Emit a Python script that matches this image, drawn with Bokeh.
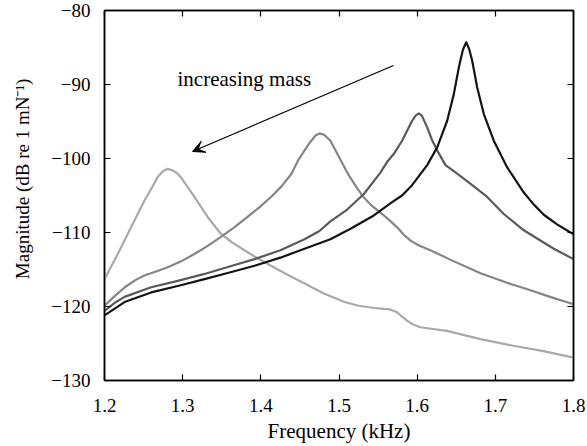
from bokeh.plotting import figure
from bokeh.models import LinearAxis, FixedTicker, Arrow, VeeHead, Label
from bokeh.embed import file_html
from bokeh.resources import INLINE

# ---- data ----
x_ticks = [1.2, 1.3, 1.4, 1.5, 1.6, 1.7, 1.8]
x_tick_labels = ["1.2", "1.3", "1.4", "1.5", "1.6", "1.7", "1.8"]
y_ticks = [-130, -120, -110, -100, -90, -80]
y_tick_labels = ["\u2212130", "\u2212120", "\u2212110", "\u2212100", "\u221290", "\u221280"]

light_x = [1.200, 1.217, 1.234, 1.251, 1.262, 1.268, 1.275, 1.281, 1.287, 1.293, 1.298, 1.306,
           1.315, 1.332, 1.349, 1.364, 1.379, 1.396, 1.413, 1.434, 1.456, 1.480, 1.507, 1.525,
           1.545, 1.565, 1.573, 1.580, 1.587, 1.594, 1.604, 1.638, 1.681, 1.723, 1.760, 1.800]
light_y = [-116.3, -112.9, -109.3, -105.7, -103.7, -102.5, -101.7, -101.4, -101.6, -102.0, -102.6, -103.8,
           -105.2, -107.9, -110.2, -111.4, -112.4, -113.5, -114.5, -115.7, -116.9, -118.2, -119.4, -119.9,
           -120.2, -120.4, -120.7, -121.3, -121.9, -122.4, -122.8, -123.3, -124.4, -125.3, -126.0, -126.9]

medium_x = [1.200, 1.213, 1.226, 1.240, 1.251, 1.265, 1.281, 1.298, 1.315, 1.332, 1.349, 1.366,
            1.383, 1.398, 1.413, 1.427, 1.439, 1.448, 1.456, 1.463, 1.470, 1.475, 1.481, 1.489,
            1.499, 1.5105, 1.520, 1.5297, 1.541, 1.553, 1.564, 1.5744, 1.583, 1.5915, 1.603, 1.617,
            1.643, 1.681, 1.715, 1.745, 1.770, 1.800]
medium_y = [-119.9, -118.6, -117.4, -116.4, -115.8, -115.3, -114.7, -113.9, -112.9, -111.8, -110.6, -109.3,
            -107.9, -106.6, -105.2, -103.7, -102.1, -100.2, -98.9, -97.8, -96.9, -96.6, -96.8, -97.6,
            -99.6, -101.9, -103.5, -105.0, -106.3, -107.3, -108.3, -109.3, -110.3, -111.1, -111.8, -112.4,
            -113.7, -115.5, -116.8, -117.8, -118.7, -119.7]

dark_x = [1.200, 1.213, 1.2256, 1.2597, 1.295, 1.328, 1.360, 1.392, 1.425, 1.4559, 1.475, 1.489,
          1.5105, 1.5318, 1.553, 1.562, 1.570, 1.5807, 1.587, 1.593, 1.598, 1.602, 1.606, 1.6128,
          1.619, 1.6256, 1.6362, 1.6469, 1.668, 1.6896, 1.7108, 1.7364, 1.7748, 1.800]
dark_y = [-120.6, -119.5, -118.7, -117.4, -116.5, -115.6, -114.6, -113.6, -112.4, -110.9, -109.8, -108.5,
          -106.9, -104.8, -101.9, -100.4, -99.4, -97.6, -96.3, -95.0, -94.2, -93.9, -94.2, -95.8,
          -97.5, -98.9, -100.9, -101.7, -103.4, -105.2, -107.5, -109.7, -112.2, -113.6]

black_x = [1.200, 1.2256, 1.2597, 1.295, 1.328, 1.360, 1.392, 1.425, 1.4559, 1.489, 1.5147, 1.5446,
           1.5679, 1.5807, 1.5935, 1.6128, 1.6256, 1.6298, 1.6384, 1.6469, 1.6533, 1.6585, 1.6627,
           1.6665, 1.6704, 1.6768, 1.6853, 1.698, 1.7152, 1.7364, 1.749, 1.762, 1.779, 1.7962, 1.800]
black_y = [-121.2, -119.4, -118.1, -117.2, -116.3, -115.4, -114.5, -113.4, -112.2, -110.9, -109.5, -107.7,
           -105.9, -105.0, -103.6, -100.9, -98.5, -97.3, -94.9, -91.3, -87.7, -85.3, -84.3,
           -85.2, -86.8, -90.4, -94.0, -97.6, -101.2, -104.6, -106.2, -107.6, -108.9, -110.0, -110.2]

annotation_text = "increasing mass"
x_title = "Frequency (kHz)"
y_title = "Magnitude (dB re 1 mN\u207b\u00b9)"

FONT = "Liberation Serif"

p = figure(width=587, height=446, x_range=(1.2, 1.8), y_range=(-130, -80),
           output_backend="svg", toolbar_location=None,
           min_border_left=104, min_border_right=14, min_border_top=10, min_border_bottom=66)
p.background_fill_color = "white"
p.border_fill_color = "white"
p.outline_line_color = "black"
p.outline_line_width = 1.5
p.xgrid.visible = False
p.ygrid.visible = False

for xs, ys, col in [(light_x, light_y, "#a9a9a9"), (medium_x, medium_y, "#858585"),
                    (dark_x, dark_y, "#5a5a5a"), (black_x, black_y, "#141414")]:
    p.line(xs, ys, line_color=col, line_width=2.2, line_join="round")

def style_axis(ax, ticks, labels, show_labels=True):
    ax.ticker = FixedTicker(ticks=ticks)
    ax.major_label_overrides = {t: l for t, l in zip(ticks, labels)}
    ax.major_tick_in = 6
    ax.major_tick_out = 0
    ax.minor_tick_in = 0
    ax.minor_tick_out = 0
    ax.axis_line_color = "black"
    ax.axis_line_width = 1.5
    ax.major_tick_line_width = 1.2
    ax.major_label_text_font = FONT
    ax.major_label_text_font_size = "19px"
    ax.major_label_text_color = "black" if show_labels else None
    ax.axis_label_text_font = FONT
    ax.axis_label_text_font_size = "21px"
    ax.axis_label_text_font_style = "normal"
    ax.axis_label_text_color = "black"

xa = p.xaxis[0]
ya = p.yaxis[0]
style_axis(xa, x_ticks, x_tick_labels)
style_axis(ya, y_ticks, y_tick_labels)
xa.axis_label = x_title
xa.major_label_standoff = 18
xa.axis_label_standoff = 4
# leading no-break spaces lift the title a little above the frame centre, as in the reference
ya.axis_label = "\u00a0" * 7 + y_title
ya.axis_label_text_font_size = "19px"
ya.major_label_standoff = 14
ya.axis_label_standoff = 15

top = LinearAxis()
style_axis(top, x_ticks, x_tick_labels, show_labels=False)
top.major_label_standoff = 0
p.add_layout(top, "above")
right = LinearAxis()
style_axis(right, y_ticks, y_tick_labels, show_labels=False)
right.major_label_standoff = 0
p.add_layout(right, "right")

p.add_layout(Arrow(end=VeeHead(size=12, fill_color="black", line_color="black", line_width=1),
                   x_start=1.5697, y_start=-87.43, x_end=1.3126, y_end=-99.05,
                   line_color="black", line_width=1.2))
p.add_layout(Label(x=1.2934, y=-89.19, text=annotation_text, text_font=FONT,
                   text_font_size="21px", text_color="black", text_baseline="alphabetic"))

open("out.html", "w").write(file_html(p, INLINE))
